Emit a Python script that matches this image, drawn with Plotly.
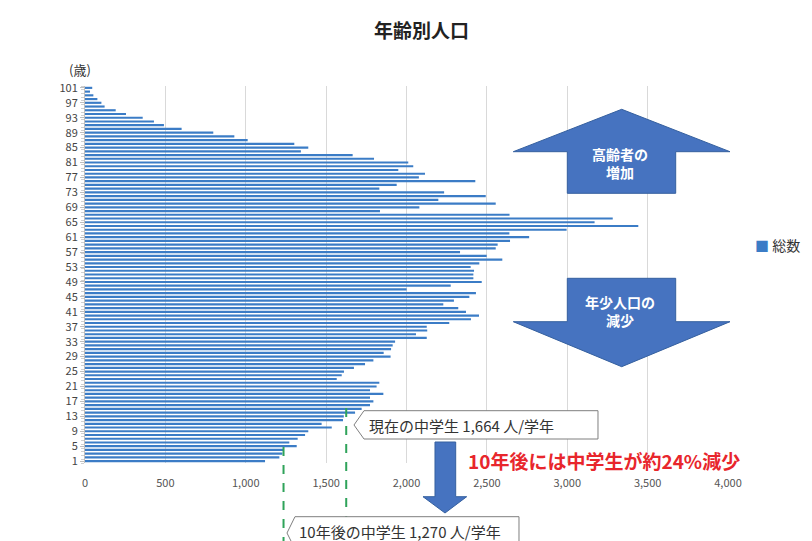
import plotly.graph_objects as go

# ---------------- data ----------------
ages = list(range(1, 102))
population = [
    1120, 1209, 1228, 1234, 1317, 1271, 1323, 1369, 1389, 1535,   # 1-10
    1472, 1605, 1610, 1680, 1721, 1773, 1794, 1773, 1856, 1773,   # 11-20
    1814, 1831, 1566, 1597, 1611, 1673, 1742, 1794, 1901, 1858,   # 21-30
    1904, 1914, 1929, 2126, 2059, 2129, 2126, 2266, 2401, 2451,   # 31-40
    2370, 2322, 2229, 2295, 2391, 2432, 2001, 2275, 2468, 2416,   # 41-50
    2416, 2420, 2399, 2453, 2596, 2499, 2333, 2555, 2567, 2644,   # 51-60
    2763, 2640, 2996, 3442, 3170, 3283, 2641, 1835, 2080, 2555,   # 61-70
    2198, 2493, 2234, 1831, 1939, 2428, 2077, 2115, 1949, 2042,   # 71-80
    2011, 1798, 1665, 1343, 1389, 1302, 1012, 929, 798, 601,      # 81-90
    491, 429, 359, 255, 191, 122, 102, 77, 52, 31,                # 91-100
    45,                                                           # 101
]
age_ticks = list(range(1, 102, 4))
x_ticks = [0, 500, 1000, 1500, 2000, 2500, 3000, 3500, 4000]
x_ticklabels = ["0", "500", "1,000", "1,500", "2,000", "2,500", "3,000", "3,500", "4,000"]
series_name = "総数"
ms_lines = [1625, 1235]          # dashed reference levels (current / 10 years later)

FONT = "Noto Sans CJK JP"
BAR_COLOR = "#3b7cc6"
ARROW_FILL = "#4673c0"
ARROW_LINE = "#35609f"
GREEN = "#2fa35a"

# plot-area geometry in pixels (for decorative shapes)
W_FIG, H_FIG = 812, 541
L, R, T, B = 85, 728, 86, 463


def px(x):
    return (x - L) / (R - L)


def py(y):
    return (B - y) / (B - T)


def path(points):
    return "M " + " L ".join(f"{px(x):.5f},{py(y):.5f}" for x, y in points) + " Z"


def note(text, x, y, size, color, xanchor="center", **kw):
    return dict(text=text, x=px(x), y=py(y), xref="paper", yref="paper",
                xanchor=xanchor, yanchor="middle", showarrow=False,
                font=dict(size=size, color=color, family=FONT), **kw)


fig = go.Figure()
fig.add_trace(go.Bar(
    x=population, y=ages, orientation="h", name=series_name,
    marker=dict(color=BAR_COLOR, line=dict(width=0)),
    showlegend=False,
))

shapes = []
# dashed green lines
for level, top in zip(ms_lines, [408, 447]):
    shapes.append(dict(type="line", xref="x", yref="paper", x0=level, x1=level,
                       y0=py(top), y1=py(545), line=dict(color=GREEN, width=2, dash="dash"),
                       layer="above"))

# big up arrow
shapes.append(dict(type="path", xref="paper", yref="paper",
                   path=path([(621.7, 109.3), (730, 151.7), (675.7, 151.7), (675.7, 193.3),
                              (567.3, 193.3), (567.3, 151.7), (513.3, 151.7)]),
                   fillcolor=ARROW_FILL, line=dict(color=ARROW_LINE, width=1)))
# big down arrow
shapes.append(dict(type="path", xref="paper", yref="paper",
                   path=path([(567.3, 278.3), (675.7, 278.3), (675.7, 321.7), (730, 321.7),
                              (621.7, 366.7), (513.3, 321.7), (567.3, 321.7)]),
                   fillcolor=ARROW_FILL, line=dict(color=ARROW_LINE, width=1)))
# small down arrow
shapes.append(dict(type="path", xref="paper", yref="paper",
                   path=path([(435, 442), (455.7, 442), (455.7, 496.7), (466.7, 496.7),
                              (445, 513), (423, 496.7), (435, 496.7)]),
                   fillcolor=ARROW_FILL, line=dict(color=ARROW_LINE, width=1)))
# upper callout
shapes.append(dict(type="path", xref="paper", yref="paper",
                   path=path([(364, 410.7), (598, 410.7), (598, 439), (364, 439), (354, 425)]),
                   fillcolor="white", line=dict(color="#7f7f7f", width=1)))
# lower callout
shapes.append(dict(type="path", xref="paper", yref="paper",
                   path=path([(295, 516.7), (519, 516.7), (519, 570), (295, 570), (295, 549), (287, 533)]),
                   fillcolor="white", line=dict(color="#7f7f7f", width=1)))

annotations = [
    note("<b>年齢別人口</b>", 421, 30, 19, "#222222"),
    note("(歳)", 80, 70, 13, "#333333"),
    note("<b>高齢者の<br>増加</b>", 620, 163, 14, "white"),
    note("<b>年少人口の<br>減少</b>", 620, 311, 14, "white"),
    note("現在の中学生 1,664 人/学年", 367, 425, 15, "#333333", xanchor="left"),
    note("10年後の中学生 1,270 人/学年", 297, 531, 15, "#333333", xanchor="left"),
    note("<b>10年後には中学生が約24%減少</b>", 466, 460, 19, "#e8262c", xanchor="left"),
    note(f"<span style='color:{BAR_COLOR}'>■</span> {series_name}", 753, 245, 14,
         "#333333", xanchor="left"),
]

fig.update_layout(
    width=W_FIG, height=H_FIG,
    margin=dict(l=L, r=W_FIG - R, t=T, b=H_FIG - B, pad=0),
    paper_bgcolor="white", plot_bgcolor="white",
    bargap=0.42,
    font=dict(family=FONT, color="#444444"),
    shapes=shapes, annotations=annotations,
    xaxis=dict(range=[0, 4000], tickvals=x_ticks, ticktext=x_ticklabels,
               showgrid=True, gridcolor="#d9d9d9", gridwidth=1, zeroline=False,
               showline=False, ticks="", tickfont=dict(size=11, color="#555555"),
               ticklabelstandoff=12),
    yaxis=dict(range=[0.5, 101.5], tickvals=age_ticks, showgrid=False, zeroline=False,
               showline=True, linecolor="#bfbfbf", linewidth=1,
               ticks="outside", ticklen=4, tickcolor="#bfbfbf",
               minor=dict(dtick=1, tick0=0.5, ticks="outside", ticklen=3, tickcolor="#d0d0d0"),
               tickfont=dict(size=11, color="#444444")),
)

fig.write_html("out.html")
